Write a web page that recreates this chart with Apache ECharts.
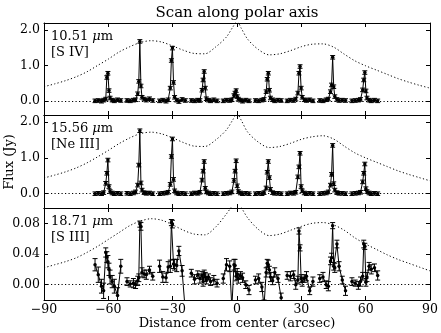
<!DOCTYPE html>
<html>
<head>
<meta charset="utf-8">
<script src="https://cdn.jsdelivr.net/npm/echarts@6/dist/echarts.min.js"></script>
<style>
html, body { margin: 0; padding: 0; background: #fff; }
#chart { width: 441px; height: 333px; }
</style>
</head>
<body>
<div id="chart"></div>
<script>
// x positions of the scan points, one list per scan segment
var scanX = [
  [-66.2, -64.7, -63.2, -62.2, -61.2, -60.7, -60.2, -59.7, -59.2, -58.2, -57.2, -55.7, -54.2],
  [-51.3, -49.8, -48.3, -47.3, -46.3, -45.8, -45.3, -44.8, -44.3, -43.3, -42.3, -40.8, -39.3],
  [-36.1, -34.6, -33.1, -32.1, -31.1, -30.6, -30.1, -29.6, -29.1, -28.1, -27.1, -25.6, -24.1],
  [-21.3, -19.8, -18.3, -17.3, -16.3, -15.8, -15.3, -14.8, -14.3, -13.3, -12.3, -10.8, -9.3],
  [-6.4, -4.9, -3.4, -2.4, -1.4, -0.9, -0.4, 0.1, 0.6, 1.6, 2.6, 4.1, 5.6],
  [8.6, 10.1, 11.6, 12.6, 13.6, 14.1, 14.6, 15.1, 15.6, 16.6, 17.6, 19.1, 20.6],
  [23.4, 24.9, 26.4, 27.4, 28.4, 28.9, 29.4, 29.9, 30.4, 31.4, 32.4, 33.9, 35.4],
  [38.6, 40.1, 41.6, 42.6, 43.6, 44.1, 44.6, 45.1, 45.6, 46.6, 47.6, 49.1, 50.6],
  [53.6, 55.1, 56.6, 57.6, 58.6, 59.1, 59.6, 60.1, 60.6, 61.6, 62.6, 64.1, 65.6]
];

// [S IV] 10.51 um
var s4Flux = [
  [0.00, 0.01, -0.01, 0.02, 0.05, 0.66, 0.78, 0.29, 0.08, 0.02, 0.00, 0.03, 0.01],
  [0.01, 0.00, 0.02, 0.03, 0.20, 0.55, 1.68, 0.42, 0.10, 0.05, 0.02, 0.06, 0.01],
  [0.00, 0.02, -0.01, 0.03, 0.36, 1.14, 1.49, 0.52, 0.10, 0.02, -0.02, 0.04, 0.01],
  [0.01, 0.00, 0.02, 0.01, 0.30, 0.59, 0.83, 0.36, 0.06, 0.02, 0.00, 0.03, 0.00],
  [0.00, 0.02, 0.01, 0.03, 0.15, 0.22, 0.29, 0.12, 0.05, 0.02, -0.01, 0.02, 0.00],
  [0.01, 0.00, 0.02, 0.04, 0.26, 0.61, 0.78, 0.30, 0.08, 0.03, 0.00, 0.02, 0.01],
  [0.00, 0.02, 0.01, 0.05, 0.22, 0.78, 0.97, 0.36, 0.10, 0.03, 0.01, 0.03, 0.00],
  [0.01, 0.00, 0.03, 0.05, 0.26, 0.45, 1.23, 0.40, 0.12, 0.04, 0.01, 0.02, 0.01],
  [0.00, 0.01, 0.02, 0.04, 0.31, 0.59, 0.80, 0.28, 0.08, 0.02, 0.00, 0.02, 0.00]
];
var s4Err = 0.05;

// [Ne III] 15.56 um
var ne3Flux = [
  [0.00, 0.01, 0.00, 0.03, 0.29, 0.57, 0.94, 0.20, 0.06, 0.02, 0.00, 0.01, 0.00],
  [0.01, 0.00, 0.02, 0.05, 0.24, 0.80, 1.76, 0.30, 0.10, 0.03, 0.01, 0.02, 0.00],
  [0.00, 0.01, 0.02, 0.04, 0.26, 1.04, 1.53, 0.40, 0.08, 0.02, 0.00, 0.01, 0.00],
  [0.00, 0.02, 0.01, 0.04, 0.38, 0.63, 0.90, 0.15, 0.05, 0.02, 0.00, 0.01, 0.00],
  [0.00, 0.01, 0.02, 0.05, 0.37, 0.63, 0.92, 0.22, 0.06, 0.02, 0.00, 0.01, 0.00],
  [0.00, 0.01, 0.00, 0.03, 0.16, 0.60, 0.90, 0.45, 0.12, 0.03, 0.01, 0.01, 0.00],
  [0.00, 0.02, 0.01, 0.04, 0.47, 0.75, 1.13, 0.20, 0.08, 0.02, 0.00, 0.01, 0.00],
  [0.00, 0.01, 0.02, 0.05, 0.24, 0.54, 1.35, 0.28, 0.10, 0.03, 0.01, 0.01, 0.00],
  [0.00, 0.01, 0.02, 0.04, 0.33, 0.57, 0.83, 0.14, 0.06, 0.02, 0.00, 0.01, 0.00]
];
var ne3Err = 0.05;

// [S III] 18.71 um
var s3Flux = [
  [0.026, 0.013, -0.002, -0.008, 0.042, 0.036, 0.030, 0.020, 0.010, 0.004, -0.002, -0.014, 0.024],
  [0.004, 0.001, 0.002, 0.000, 0.005, 0.009, 0.079, 0.076, 0.016, 0.014, 0.013, 0.019, 0.011],
  [0.024, 0.010, 0.009, 0.023, 0.024, 0.081, 0.079, 0.027, 0.026, 0.025, 0.044, 0.018, -0.035],
  [0.015, 0.007, 0.013, 0.008, 0.012, 0.004, 0.014, 0.010, 0.006, 0.010, 0.004, 0.006, 0.002],
  [0.008, 0.026, 0.024, -0.030, 0.026, 0.025, 0.011, 0.014, 0.008, 0.012, 0.009, 0.000, -0.007],
  [0.006, 0.008, -0.003, -0.028, 0.016, 0.028, 0.026, 0.019, 0.010, 0.005, 0.016, 0.008, -0.017],
  [0.012, 0.011, 0.013, 0.000, 0.006, 0.070, 0.048, 0.008, 0.004, 0.008, 0.011, -0.008, 0.004],
  [0.008, 0.010, 0.000, -0.002, 0.031, 0.035, 0.077, 0.024, 0.022, 0.053, 0.024, 0.006, -0.008],
  [0.004, 0.002, -0.001, 0.004, 0.011, 0.053, 0.050, 0.003, 0.010, 0.024, 0.020, 0.022, 0.012]
];
var s3Err = [
  [0.008, 0.010, 0.009, 0.010, 0.006, 0.007, 0.008, 0.008, 0.009, 0.008, 0.009, 0.010, 0.009],
  [0.005, 0.004, 0.006, 0.005, 0.006, 0.005, 0.004, 0.005, 0.006, 0.005, 0.006, 0.005, 0.005],
  [0.008, 0.007, 0.006, 0.007, 0.008, 0.004, 0.005, 0.006, 0.007, 0.008, 0.006, 0.007, 0.008],
  [0.005, 0.006, 0.005, 0.006, 0.005, 0.006, 0.005, 0.006, 0.005, 0.004, 0.005, 0.006, 0.005],
  [0.006, 0.008, 0.007, 0.009, 0.007, 0.008, 0.006, 0.007, 0.006, 0.005, 0.006, 0.005, 0.006],
  [0.005, 0.006, 0.006, 0.008, 0.006, 0.005, 0.006, 0.005, 0.006, 0.005, 0.006, 0.005, 0.006],
  [0.005, 0.006, 0.005, 0.006, 0.005, 0.004, 0.004, 0.005, 0.006, 0.005, 0.006, 0.005, 0.006],
  [0.005, 0.006, 0.005, 0.006, 0.005, 0.006, 0.004, 0.005, 0.006, 0.005, 0.006, 0.005, 0.006],
  [0.005, 0.004, 0.005, 0.006, 0.005, 0.005, 0.004, 0.005, 0.006, 0.005, 0.006, 0.005, 0.006]
];

// dotted brightness profile along the axis
var profileX = [-90, -85, -80, -75, -70, -65, -60, -55, -50, -45, -40, -35, -30, -25, -20, -15, -10, -5, -2, 0,
  2, 5, 10, 15, 20, 25, 30, 35, 40, 45, 50, 55, 60, 65, 70, 75, 80, 85, 90];
var s4Profile = [0.40, 0.48, 0.57, 0.68, 0.82, 1.00, 1.18, 1.38, 1.53, 1.65, 1.70, 1.66, 1.55, 1.43, 1.34, 1.33, 1.52, 1.80, 2.08, 2.25,
  2.05, 1.74, 1.45, 1.30, 1.33, 1.42, 1.53, 1.60, 1.61, 1.52, 1.32, 1.13, 0.99, 0.87, 0.75, 0.63, 0.53, 0.44, 0.36];
var ne3Profile = [0.44, 0.52, 0.61, 0.72, 0.86, 1.03, 1.21, 1.40, 1.56, 1.68, 1.72, 1.67, 1.56, 1.43, 1.33, 1.32, 1.50, 1.78, 2.06, 2.24,
  2.05, 1.72, 1.44, 1.29, 1.32, 1.41, 1.52, 1.59, 1.62, 1.53, 1.33, 1.14, 1.00, 0.88, 0.76, 0.64, 0.54, 0.45, 0.36];
var s3Profile = [0.022, 0.026, 0.030, 0.035, 0.042, 0.050, 0.059, 0.068, 0.077, 0.083, 0.086, 0.084, 0.078, 0.071, 0.066, 0.065, 0.075, 0.092, 0.104, 0.112,
  0.101, 0.087, 0.072, 0.064, 0.066, 0.071, 0.076, 0.080, 0.081, 0.078, 0.071, 0.061, 0.053, 0.046, 0.039, 0.033, 0.028, 0.023, 0.018];

var xTicks = [-90, -60, -30, 0, 30, 60, 90];

var FONT = 'DejaVu Serif';
var panels = [
  { flux: s4Flux, err: s4Err, profile: s4Profile, ticks: [0, 1, 2], digits: 1, min: -0.4, max: 2.2, wl: '10.51 ', ion: '[S IV]' },
  { flux: ne3Flux, err: ne3Err, profile: ne3Profile, ticks: [0, 1, 2], digits: 1, min: -0.4, max: 2.2, wl: '15.56 ', ion: '[Ne III]' },
  { flux: s3Flux, err: s3Err, profile: s3Profile, ticks: [0, 0.04, 0.08], digits: 2, min: -0.02, max: 0.10, wl: '18.71 ', ion: '[S III]' }
];
var gridTop = [23, 115, 208];
var gridH = [92, 93, 92];

var grids = [], xAxes = [], yAxes = [], series = [], texts = [];

panels.forEach(function (p, g) {
  grids.push({ left: 44, right: 11, top: gridTop[g], height: gridH[g] });

  ['bottom', 'top'].forEach(function (pos) {
    xAxes.push({
      type: 'value', gridIndex: g, position: pos, min: -90, max: 90,
      axisLine: { show: true, onZero: false, lineStyle: { color: '#000', width: 1 } },
      axisTick: { show: true, inside: true, length: 4, customValues: xTicks, lineStyle: { color: '#000' } },
      axisLabel: {
        show: pos === 'bottom' && g === 2, customValues: xTicks, margin: 3,
        fontFamily: FONT, fontSize: 12.5, color: '#000',
        formatter: function (v) { return String(v).replace('-', '\u2212'); }
      },
      splitLine: { show: false }
    });
  });
  ['left', 'right'].forEach(function (pos) {
    yAxes.push({
      type: 'value', gridIndex: g, position: pos, min: p.min, max: p.max,
      axisLine: { show: true, onZero: false, lineStyle: { color: '#000', width: 1 } },
      axisTick: { show: true, inside: true, length: 4, customValues: p.ticks, lineStyle: { color: '#000' } },
      axisLabel: {
        show: pos === 'left', customValues: p.ticks, margin: 4,
        fontFamily: FONT, fontSize: 12.5, color: '#000',
        formatter: function (v) { return v.toFixed(p.digits); }
      },
      splitLine: { show: false }
    });
  });

  var xi = 2 * g, yi = 2 * g;

  series.push({
    type: 'line', xAxisIndex: xi, yAxisIndex: yi, silent: true,
    data: profileX.map(function (x, i) { return [x, p.profile[i]]; }),
    symbol: 'none', smooth: 0.3,
    lineStyle: { color: '#000', width: 1, type: [1.2, 2.3] },
    markLine: {
      silent: true, symbol: 'none', label: { show: false },
      lineStyle: { color: '#000', width: 1, type: [1.2, 2.3] },
      data: [{ yAxis: 0 }]
    },
    z: 1
  });

  var lineData = [], errData = [];
  scanX.forEach(function (xs, s) {
    if (s > 0) lineData.push(['-', '-']);
    xs.forEach(function (x, i) {
      var y = p.flux[s][i];
      var e = typeof p.err === 'number' ? p.err : p.err[s][i];
      lineData.push([x, y]);
      errData.push([x, y, e]);
    });
  });

  series.push({
    type: 'custom', xAxisIndex: xi, yAxisIndex: yi, silent: true, clip: true,
    data: errData, z: 2,
    renderItem: function (params, api) {
      var x = api.value(0), y = api.value(1), e = api.value(2);
      var hi = api.coord([x, y + e]);
      var lo = api.coord([x, y - e]);
      var cw = 2.5;
      var st = { stroke: '#000', lineWidth: 1 };
      return {
        type: 'group',
        children: [
          { type: 'line', shape: { x1: hi[0], y1: hi[1], x2: lo[0], y2: lo[1] }, style: st },
          { type: 'line', shape: { x1: hi[0] - cw, y1: hi[1], x2: hi[0] + cw, y2: hi[1] }, style: st },
          { type: 'line', shape: { x1: lo[0] - cw, y1: lo[1], x2: lo[0] + cw, y2: lo[1] }, style: st }
        ]
      };
    }
  });

  series.push({
    type: 'line', xAxisIndex: xi, yAxisIndex: yi, silent: true,
    data: lineData, connectNulls: false,
    symbol: 'circle', symbolSize: 3.5,
    itemStyle: { color: '#000' },
    lineStyle: { color: '#000', width: 1 },
    z: 3
  });

  texts.push({
    type: 'text', left: 51, top: gridTop[g] + 6,
    style: {
      text: p.wl + '{i|\u03bc}m\n' + p.ion,
      font: '13px "DejaVu Serif"', fill: '#000', lineHeight: 16,
      rich: { i: { fontStyle: 'italic', fontFamily: FONT, fontSize: 13, lineHeight: 16 } }
    }
  });
});

texts.push({
  type: 'text', x: 237, y: 13,
  style: { text: 'Scan along polar axis', font: '15px "DejaVu Serif"', fill: '#000', align: 'center', verticalAlign: 'middle' }
});
texts.push({
  type: 'text', x: 237, y: 324,
  style: { text: 'Distance from center (arcsec)', font: '13px "DejaVu Serif"', fill: '#000', align: 'center', verticalAlign: 'middle' }
});
texts.push({
  type: 'text', x: 10, y: 162, rotation: Math.PI / 2,
  style: { text: 'Flux (Jy)', font: '13px "DejaVu Serif"', fill: '#000', align: 'center', verticalAlign: 'middle' }
});

var chart = echarts.init(document.getElementById('chart'));
chart.setOption({
  animation: false,
  backgroundColor: '#fff',
  grid: grids,
  xAxis: xAxes,
  yAxis: yAxes,
  series: series,
  graphic: texts
});
</script>
</body>
</html>
